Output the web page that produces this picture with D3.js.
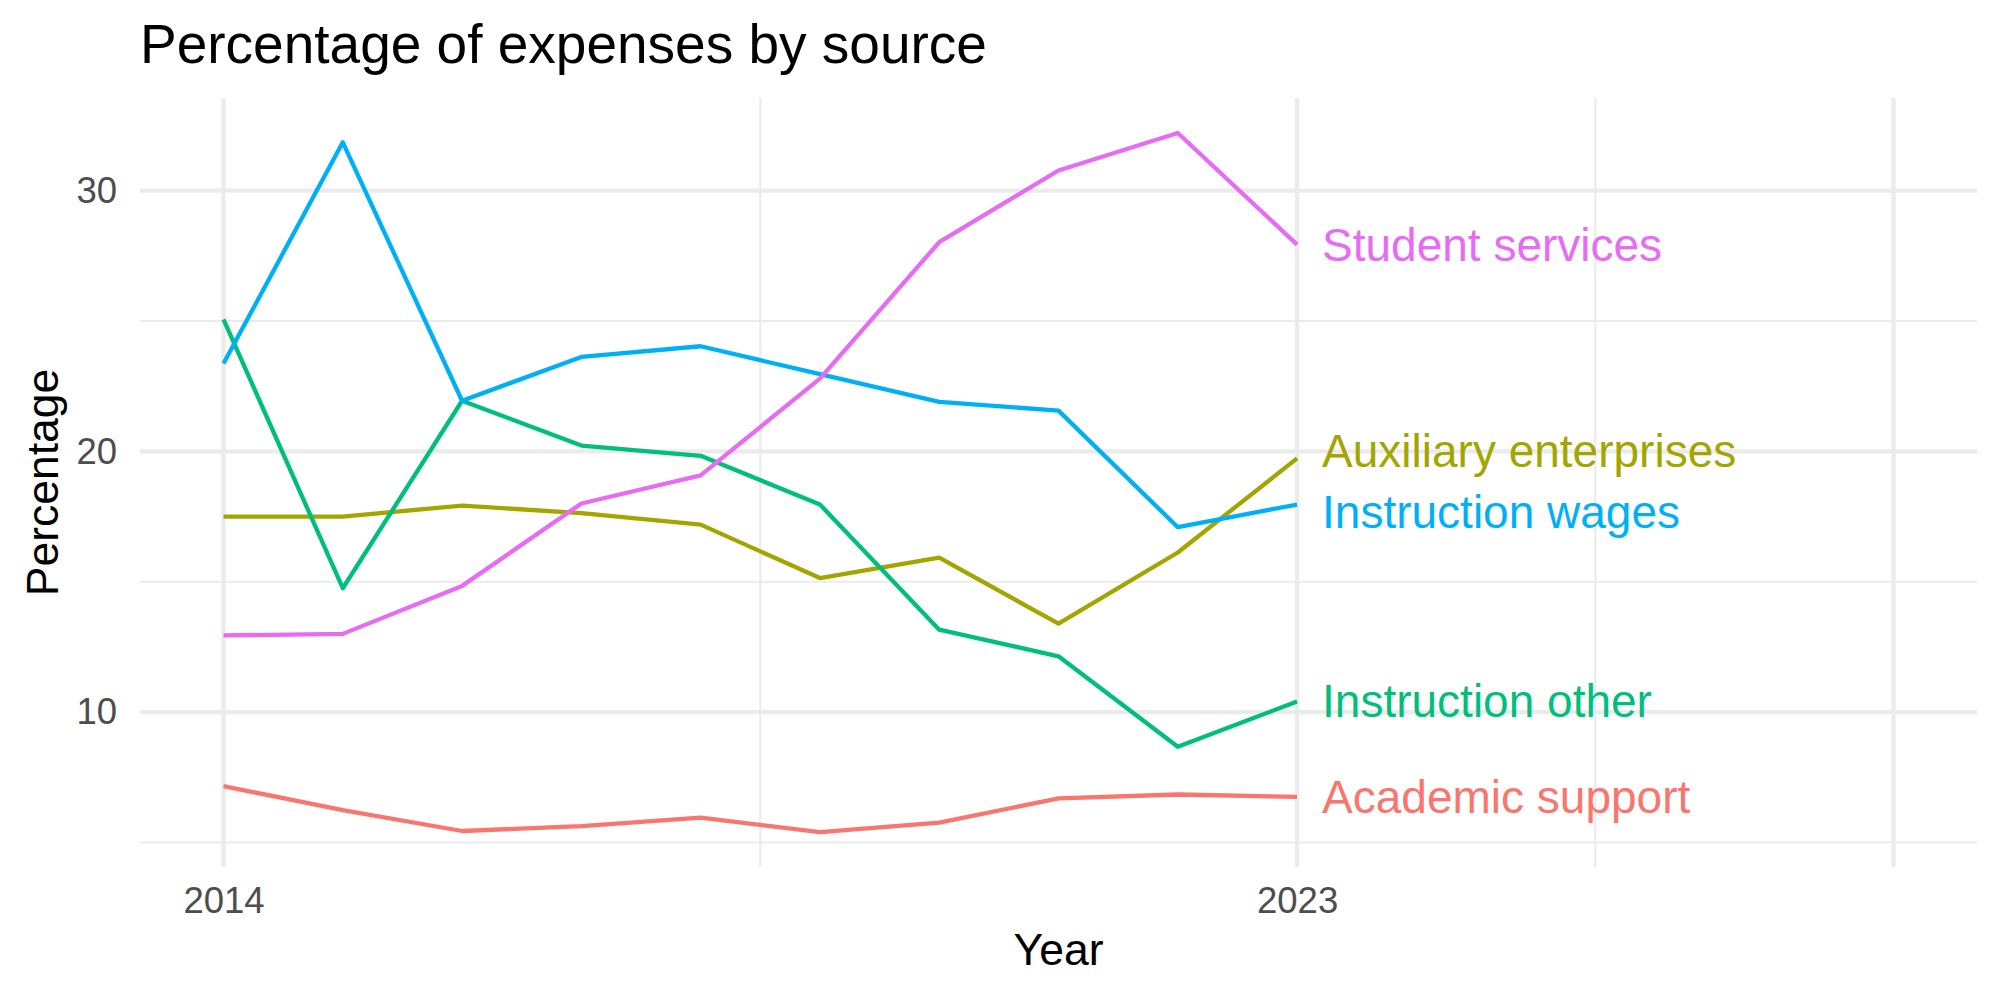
<!DOCTYPE html>
<html>
<head>
<meta charset="utf-8">
<script src="https://cdn.jsdelivr.net/npm/d3@7"></script>
<style>
  body { margin: 0; background: #fff; }
  text { font-family: "Liberation Sans", Arial, Helvetica, sans-serif; }
</style>
</head>
<body>
<script>
var width = 2000;
var height = 1000;

// data
var years = [2014, 2015, 2016, 2017, 2018, 2019, 2020, 2021, 2022, 2023];
var sources = ["Academic support", "Auxiliary enterprises", "Instruction other", "Instruction wages", "Student services"];
var academicSupport  = [7.16, 6.24, 5.44, 5.63, 5.95, 5.40, 5.76, 6.69, 6.84, 6.75];
var auxiliary        = [17.50, 17.50, 17.92, 17.63, 17.19, 15.14, 15.92, 13.39, 16.12, 19.73];
var instructionOther = [25.06, 14.75, 21.94, 20.22, 19.83, 17.96, 13.16, 12.14, 8.67, 10.41];
var instructionWages = [23.37, 31.85, 21.94, 23.62, 24.03, 22.96, 21.90, 21.56, 17.09, 17.96];
var studentServices  = [12.94, 13.00, 14.84, 18.00, 19.08, 22.79, 28.02, 30.77, 32.21, 27.93];
var colors = ["#F8766D", "#A3A500", "#00BF7D", "#00B0F6", "#E76BF3"];

var xLimits = [2014, 2028];
var xMajor = [2014, 2023, 2028];
var xMinor = [2018.5, 2025.5];
var xLabels = [2014, 2023];
var yMajor = [10, 20, 30];
var yMinor = [5, 15, 25];

var values = [academicSupport, auxiliary, instructionOther, instructionWages, studentServices];
var series = sources.map(function(name, i) {
    return { name: name, color: colors[i],
             points: years.map(function(yr, j) { return { year: yr, value: values[i][j] }; }) };
});

var panel = { left: 140, right: 1977, top: 98, bottom: 867 };

var xPad = (xLimits[1] - xLimits[0]) * 0.05;
var x = d3.scaleLinear()
    .domain([xLimits[0] - xPad, xLimits[1] + xPad])
    .range([panel.left, panel.right]);

var allVals = d3.merge(values);
var yExt = d3.extent(allVals);
var yPad = (yExt[1] - yExt[0]) * 0.05;
var y = d3.scaleLinear()
    .domain([yExt[0] - yPad, yExt[1] + yPad])
    .range([panel.bottom, panel.top]);

var svg = d3.select("body").append("svg")
    .attr("width", width)
    .attr("height", height);

svg.append("rect").attr("width", width).attr("height", height).attr("fill", "#fff");

var grid = svg.append("g");

grid.selectAll(".ymin").data(yMinor).enter().append("line")
    .attr("x1", panel.left).attr("x2", panel.right)
    .attr("y1", d => y(d)).attr("y2", d => y(d))
    .attr("stroke", "#ebebeb").attr("stroke-width", 2.15);

grid.selectAll(".xmin").data(xMinor).enter().append("line")
    .attr("x1", d => x(d)).attr("x2", d => x(d))
    .attr("y1", panel.top).attr("y2", panel.bottom)
    .attr("stroke", "#ebebeb").attr("stroke-width", 2.15);

grid.selectAll(".ymaj").data(yMajor).enter().append("line")
    .attr("x1", panel.left).attr("x2", panel.right)
    .attr("y1", d => y(d)).attr("y2", d => y(d))
    .attr("stroke", "#ebebeb").attr("stroke-width", 4.3);

grid.selectAll(".xmaj").data(xMajor).enter().append("line")
    .attr("x1", d => x(d)).attr("x2", d => x(d))
    .attr("y1", panel.top).attr("y2", panel.bottom)
    .attr("stroke", "#ebebeb").attr("stroke-width", 4.3);

// axes (labels only)
var yAxis = svg.append("g")
    .attr("transform", "translate(" + (panel.left - 8) + ",0)")
    .call(d3.axisLeft(y).tickValues(yMajor).tickSize(0).tickPadding(15));
var xAxis = svg.append("g")
    .attr("transform", "translate(0," + panel.bottom + ")")
    .call(d3.axisBottom(x).tickValues(xLabels).tickFormat(d3.format("d")).tickSize(0).tickPadding(20));
[yAxis, xAxis].forEach(function(a) {
    a.select(".domain").remove();
    a.selectAll("text")
        .attr("font-family", "Liberation Sans, Arial, sans-serif")
        .attr("font-size", 36.5)
        .attr("fill", "#4d4d4d");
});

var line = d3.line()
    .x(d => x(d.year))
    .y(d => y(d.value));

svg.append("g").selectAll("path")
    .data(series)
    .enter().append("path")
    .attr("d", d => line(d.points))
    .attr("fill", "none")
    .attr("stroke", d => d.color)
    .attr("stroke-width", 4.3)
    .attr("stroke-linejoin", "round");

// end labels with a simple vertical repel
var labels = series.map(function(s) {
    var last = s.points[s.points.length - 1];
    return { name: s.name, color: s.color, x: x(last.year) + 25, y: y(last.value) + 16 };
}).sort((a, b) => a.y - b.y);
var minGap = 61;
for (var it = 0; it < 20; it++) {
    for (var i = 1; i < labels.length; i++) {
        var gap = labels[i].y - labels[i - 1].y;
        if (gap < minGap) {
            var push = (minGap - gap) / 2;
            labels[i - 1].y -= push;
            labels[i].y += push;
        }
    }
}

svg.append("g").selectAll("text")
    .data(labels)
    .enter().append("text")
    .attr("x", d => d.x)
    .attr("y", d => d.y)
    .attr("fill", d => d.color)
    .attr("font-size", 46)
    .text(d => d.name);

// titles
svg.append("text")
    .attr("x", panel.left)
    .attr("y", 63)
    .attr("font-size", 55)
    .attr("fill", "#000")
    .text("Percentage of expenses by source");

svg.append("text")
    .attr("x", (panel.left + panel.right) / 2)
    .attr("y", 965)
    .attr("text-anchor", "middle")
    .attr("font-size", 44.5)
    .attr("fill", "#000")
    .text("Year");

svg.append("text")
    .attr("transform", "translate(58," + ((panel.top + panel.bottom) / 2) + ") rotate(-90)")
    .attr("text-anchor", "middle")
    .attr("font-size", 44.5)
    .attr("fill", "#000")
    .text("Percentage");
</script>
</body>
</html>
